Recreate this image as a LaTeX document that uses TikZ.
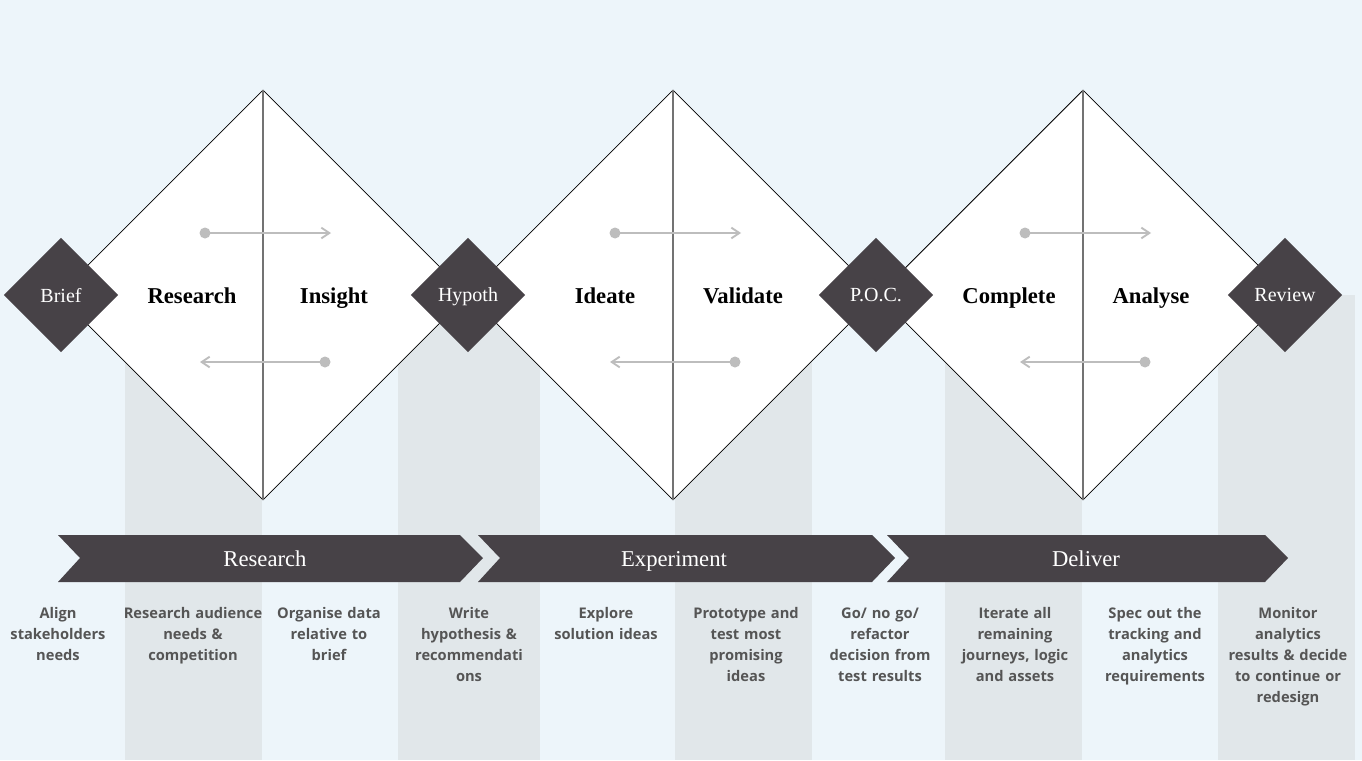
\documentclass[tikz,border=0pt]{standalone}
\usepackage{fontspec}
\setmainfont{Liberation Serif}
\setsansfont{Open Sans}
\usetikzlibrary{shapes.geometric,arrows.meta}
\definecolor{bgblue}{HTML}{EDF5FA}
\definecolor{stripe}{HTML}{E1E7EA}
\definecolor{dark}{HTML}{474247}
\definecolor{flow}{HTML}{BDBDBD}
\definecolor{note}{HTML}{555555}
\tikzset{
  big/.style={draw=black, line width=0.6pt, fill=white, diamond, minimum width=307.5pt, minimum height=307.5pt, inner sep=0pt},
  gate/.style={fill=dark, diamond, minimum width=86pt, minimum height=86pt, inner sep=0pt, text=white, text depth=0pt, font=\fontsize{15}{17}\selectfont},
  phase/.style={text depth=0pt, font=\bfseries\fontsize{17}{19}\selectfont},
  band/.style={text=white, text depth=0pt, font=\fontsize{17}{19}\selectfont},
  task/.style={text=note, font=\sffamily\bfseries\fontsize{11}{15.75}\selectfont, align=center, text width=100pt, anchor=north},
  loop/.style={draw=flow, line width=1.4pt, -{Straight Barb[length=6pt,width=8pt]}},
}
\begin{document}
\begin{tikzpicture}[x=0.75pt,y=-0.75pt]
  \fill[bgblue] (0,0) rectangle (1362,760);
  \useasboundingbox (0,0) rectangle (1362,760);
  % columns
  \foreach \a/\b in {125/262, 398/540, 675/812, 945/1082, 1218/1355}
    \fill[stripe] (\a,295) rectangle (\b,760);
  % diamonds
  \foreach \n/\x in {d1/263, d2/673, d3/1083} {
    \node[big] (\n) at (\x,295) {};
    \draw[line width=0.8pt, black!55] (\n.north) -- (\n.south);
    \fill[flow] (\x-58,233) circle (5.5);
    \draw[loop] (\x-58,233) -- (\x+68,233);
    \fill[flow] (\x+62,362) circle (5.5);
    \draw[loop] (\x+62,362) -- (\x-63,362);
  }
  \node[phase] at (192,296) {Research};
  \node[phase] at (334,296) {Insight};
  \node[phase] at (605,296) {Ideate};
  \node[phase] at (743,296) {Validate};
  \node[phase] at (1009,296) {Complete};
  \node[phase] at (1151,296) {Analyse};
  \node[gate] (brief) at (61,295) {Brief};
  \node[gate] (hyp) at (468,295) {Hypoth};
  \node[gate] (poc) at (876,295) {P.O.C.};
  \node[gate] (rev) at (1285,295) {Review};
  % band
  \foreach \s/\e/\t/\c in {58/483/Research/265, 478/895/Experiment/674, 887/1288/Deliver/1086} {
    \fill[dark] (\s,535) -- (\e-23,535) -- (\e,558) -- (\e-23,582) -- (\s,582) -- (\s+22,558) -- cycle;
    \node[band] at (\c,559) {\t};
  }
  % tasks
  \node[task] at (58,603) {Align\\stakeholders\\needs};
  \node[task, text width=150pt] at (193,603) {Research audience\\needs \&\\competition};
  \node[task] at (329,603) {Organise data\\relative to\\brief};
  \node[task] at (469,603) {Write\\hypothesis \&\\recommendati\\ons};
  \node[task] at (606,603) {Explore\\solution ideas};
  \node[task] at (746,603) {Prototype and\\test most\\promising\\ideas};
  \node[task] at (880,603) {Go/ no go/\\refactor\\decision from\\test results};
  \node[task] at (1015,603) {Iterate all\\remaining\\journeys, logic\\and assets};
  \node[task] at (1155,603) {Spec out the\\tracking and\\analytics\\requirements};
  \node[task] at (1288,603) {Monitor\\analytics\\results \& decide\\to continue or\\redesign};
\end{tikzpicture}
\end{document}
